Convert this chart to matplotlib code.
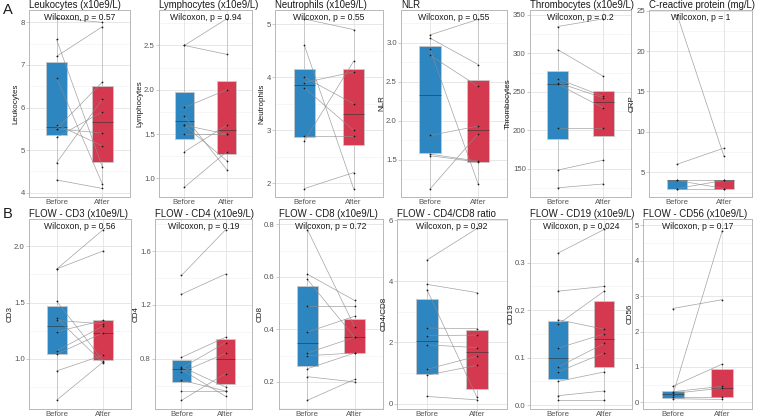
import matplotlib
matplotlib.use('Agg')
import matplotlib.pyplot as plt
import numpy as np

plt.rcParams['font.family'] = ['Liberation Sans', 'DejaVu Sans']

groups = ['Before', 'After']

# ---------------- data (paired: before[i] -> after[i]) ----------------
leuk_before = [8.1, 7.6, 7.2, 6.7, 5.6, 5.5, 5.5, 5.3, 4.7, 4.3]
leuk_after = [8.0, 4.6, 7.9, 4.2, 5.1, 5.4, 6.6, 5.9, 6.2, 4.1]
leuk_box_before = [5.35, 5.55, 7.07]   # q1, median, q3
leuk_box_after = [4.72, 5.67, 6.50]

lymph_before = [2.5, 2.5, 1.8, 1.7, 1.6, 1.6, 1.5, 1.3, 0.9]
lymph_after = [2.8, 2.4, 2.0, 1.1, 1.5, 1.2, 1.5, 1.6, 1.3]
lymph_box_before = [1.45, 1.65, 1.98]
lymph_box_after = [1.27, 1.55, 2.10]

neut_before = [5.1, 4.6, 4.0, 3.9, 3.8, 2.9, 2.8, 1.9]
neut_after = [4.9, 1.9, 3.5, 4.1, 3.0, 2.9, 4.3, 2.2]
neut_box_before = [2.88, 3.86, 4.15]
neut_box_after = [2.73, 3.30, 4.15]

nlr_before = [3.10, 3.06, 2.92, 2.84, 1.81, 1.57, 1.55, 1.12]
nlr_after = [3.30, 2.72, 1.19, 2.44, 1.93, 1.48, 1.47, 1.83]
nlr_box_before = [1.59, 2.33, 2.96]
nlr_box_after = [1.47, 1.88, 2.52]

thromb_before = [335, 305, 267, 262, 260, 203, 148, 125]
thromb_after = [345, 270, 244, 242, 229, 203, 161, 130]
thromb_box_before = [189, 260, 277]
thromb_box_after = [192, 237, 251]

crp_before = [24.5, 6.0, 4.0, 4.0, 3.0, 3.0]
crp_after = [7.0, 8.0, 3.0, 4.0, 4.0, 3.0]
crp_box_before = [3.0, 4.0, 4.0]
crp_box_after = [3.0, 4.0, 4.0]

cd3_before = [1.80, 1.80, 1.51, 1.36, 1.34, 1.24, 1.07, 1.04, 0.89, 0.63]
cd3_after = [2.15, 1.96, 0.98, 0.96, 1.31, 1.34, 1.29, 1.23, 1.03, 0.97]
cd3_box_before = [1.04, 1.29, 1.47]
cd3_box_after = [0.99, 1.23, 1.34]

cd4_before = [1.42, 1.28, 0.81, 0.74, 0.73, 0.72, 0.70, 0.64, 0.56, 0.49]
cd4_after = [1.76, 1.43, 0.96, 0.59, 0.92, 0.52, 0.84, 0.56, 0.56, 0.69]
cd4_box_before = [0.63, 0.72, 0.79]
cd4_box_after = [0.61, 0.80, 0.95]

cd8_before = [0.78, 0.61, 0.59, 0.49, 0.39, 0.31, 0.30, 0.25, 0.22, 0.13]
cd8_after = [0.41, 0.51, 0.37, 0.49, 0.45, 0.37, 0.31, 0.31, 0.20, 0.21]
cd8_box_before = [0.26, 0.35, 0.565]
cd8_box_after = [0.31, 0.37, 0.44]

ratio_before = [4.70, 3.90, 3.72, 2.47, 2.22, 1.92, 1.12, 0.93, 0.23]
ratio_after = [5.73, 3.63, 0.20, 2.45, 2.24, 1.83, 1.55, 1.25, 0.12]
ratio_box_before = [0.98, 2.05, 3.41]
ratio_box_after = [0.47, 1.68, 2.41]

cd19_before = [0.32, 0.24, 0.18, 0.17, 0.12, 0.08, 0.07, 0.05, 0.02, 0.01]
cd19_after = [0.37, 0.25, 0.16, 0.24, 0.15, 0.13, 0.11, 0.07, 0.03, 0.01]
cd19_box_before = [0.055, 0.10, 0.178]
cd19_box_after = [0.08, 0.14, 0.22]

cd56_before = [2.65, 0.45, 0.20, 0.30, 0.25, 0.15, 0.10]
cd56_after = [2.90, 1.08, 4.85, 0.45, 0.40, 0.15, 0.08]
cd56_box_before = [0.13, 0.22, 0.33]
cd56_box_after = [0.15, 0.40, 0.93]

titles = ['Leukocytes (x10e9/L)', 'Lymphocytes (x10e9/L)', 'Neutrophils (x10e9/L)',
          'NLR', 'Thrombocytes (x10e9/L)', 'C-reactive protein (mg/L)',
          'FLOW - CD3 (x10e9/L)', 'FLOW - CD4 (x10e9/L)', 'FLOW - CD8 (x10e9/L)',
          'FLOW - CD4/CD8 ratio', 'FLOW - CD19 (x10e9/L)', 'FLOW - CD56 (x10e9/L)']
ylabels = ['Leukocytes', 'Lymphocytes', 'Neutrophils', 'NLR', 'Thrombocytes', 'CRP',
           'CD3', 'CD4', 'CD8', 'CD4/CD8', 'CD19', 'CD56']
pvalues = ['0.57', '0.94', '0.55', '0.55', '0.2', '1',
           '0.56', '0.19', '0.72', '0.92', '0.024', '0.17']
ylims = [(3.9, 8.29), (0.79, 2.9), (1.74, 5.27), (1.02, 3.42), (113, 356.5), (1.95, 25.08),
         (0.55, 2.245), (0.426, 1.84), (0.097, 0.82), (-0.18, 6.04), (-0.008, 0.392), (-0.19, 5.18)]
yticks = [[4, 5, 6, 7, 8], [1.0, 1.5, 2.0, 2.5], [2, 3, 4, 5], [1.5, 2.0, 2.5, 3.0],
          [150, 200, 250, 300, 350], [5, 10, 15, 20, 25],
          [1.0, 1.5, 2.0], [0.8, 1.2, 1.6], [0.2, 0.4, 0.6, 0.8], [0, 2, 4, 6],
          [0.0, 0.1, 0.2, 0.3], [0, 1, 2, 3, 4, 5]]
yfmts = ['{:.0f}', '{:.1f}', '{:.0f}', '{:.1f}', '{:.0f}', '{:.0f}',
         '{:.1f}', '{:.1f}', '{:.1f}', '{:.0f}', '{:.1f}', '{:.0f}']

befores = [leuk_before, lymph_before, neut_before, nlr_before, thromb_before, crp_before,
           cd3_before, cd4_before, cd8_before, ratio_before, cd19_before, cd56_before]
afters = [leuk_after, lymph_after, neut_after, nlr_after, thromb_after, crp_after,
          cd3_after, cd4_after, cd8_after, ratio_after, cd19_after, cd56_after]
boxes_b = [leuk_box_before, lymph_box_before, neut_box_before, nlr_box_before,
           thromb_box_before, crp_box_before, cd3_box_before, cd4_box_before,
           cd8_box_before, ratio_box_before, cd19_box_before, cd56_box_before]
boxes_a = [leuk_box_after, lymph_box_after, neut_box_after, nlr_box_after,
           thromb_box_after, crp_box_after, cd3_box_after, cd4_box_after,
           cd8_box_after, ratio_box_after, cd19_box_after, cd56_box_after]

# ---------------- layout (pixels) ----------------
W, H = 758, 418
rowA = (10, 197)
rowB = (219, 409)
xA = [(29, 130), (159, 252), (275, 383), (401, 507), (530, 631), (649, 752)]
xB = [(29, 131), (155, 252), (279, 383), (397, 507), (530, 632), (643, 752)]

BLUE = '#2E86C1'
RED = '#D5394F'
GRID = '#e3e3e3'
BORDER = '#b8b8b8'

fig = plt.figure(figsize=(W / 100, H / 100), dpi=100)


def whisk(vals, q1, q3):
    iqr = q3 - q1
    v = np.asarray(vals, float)
    lo = v[v >= q1 - 1.5 * iqr].min()
    hi = v[v <= q3 + 1.5 * iqr].max()
    return min(lo, q1), max(hi, q3)


for i in range(12):
    row = rowA if i < 6 else rowB
    xl, xr = (xA if i < 6 else xB)[i % 6]
    yt, yb = row
    hpx = yb - yt
    ax = fig.add_axes([xl / W, 1 - yb / H, (xr - xl) / W, hpx / H])
    ax.set_xlim(0.4, 2.6)
    ax.set_ylim(*ylims[i])
    ax.set_facecolor('white')

    # grid
    yt_major = yticks[i]
    step = yt_major[1] - yt_major[0]
    minors = [t + step / 2 for t in [yt_major[0] - step] + list(yt_major)]
    for m in minors:
        if ylims[i][0] < m < ylims[i][1]:
            ax.axhline(m, color='#f0f0f0', lw=0.4, zorder=0)
    for t in yt_major:
        ax.axhline(t, color=GRID, lw=0.6, zorder=0)
    for xpos in (1, 2):
        ax.axvline(xpos, color=GRID, lw=0.6, zorder=0)

    # boxes
    stats = []
    for vals, bx in ((befores[i], boxes_b[i]), (afters[i], boxes_a[i])):
        lo, hi = whisk(vals, bx[0], bx[2])
        stats.append(dict(med=bx[1], q1=bx[0], q3=bx[2], whislo=lo, whishi=hi,
                          fliers=[]))
    bp = ax.bxp(stats, positions=[1, 2], widths=0.44, patch_artist=True,
                showfliers=False, showcaps=False,
                boxprops=dict(edgecolor='#c9c9c9', linewidth=0.6),
                whiskerprops=dict(color='#c4c4c4', linewidth=0.6),
                medianprops=dict(color='#333333', linewidth=0.7, alpha=0.6),
                zorder=2)
    for patch, c in zip(bp['boxes'], [BLUE, RED]):
        patch.set_facecolor(c)

    # paired lines and points
    b = np.asarray(befores[i], float)
    a = np.asarray(afters[i], float)
    for yb_, ya_ in zip(b, a):
        ax.plot([1, 2], [yb_, ya_], color='#8c8c8c', lw=0.5, alpha=0.8, zorder=3)
    ax.scatter(np.ones_like(b), b, s=1.6, color='#1a1a1a', zorder=4, linewidths=0)
    ax.scatter(np.full_like(a, 2), a, s=1.6, color='#1a1a1a', zorder=4, linewidths=0)

    # axes styling
    ax.set_xticks([1, 2])
    ax.set_xticklabels(groups)
    ax.set_yticks(yt_major)
    ax.set_yticklabels([yfmts[i].format(t) for t in yt_major])
    ax.tick_params(axis='both', length=2, width=0.5, color=BORDER,
                   labelsize=5.6, labelcolor='#555555', pad=1)
    ax.tick_params(axis='x', length=1.5, pad=0)
    for sp in ax.spines.values():
        sp.set_color(BORDER)
        sp.set_linewidth(0.7)
    ax.set_ylabel(ylabels[i], fontsize=5.8, color='#1a1a1a', labelpad=0.5)

    # title and p-value
    ax.text(0, 1 + 2 / hpx, titles[i], transform=ax.transAxes,
            ha='left', va='baseline', fontsize=6.9, color='#1a1a1a')
    ax.text(0.5, 1 - 9.5 / hpx, 'Wilcoxon, p = ' + pvalues[i],
            transform=ax.transAxes, ha='center', va='baseline',
            fontsize=6.2, color='#1a1a1a', zorder=5)

fig.text(3 / W, 1 - 14 / H, 'A', fontsize=10.5, ha='left', va='baseline', color='#1a1a1a')
fig.text(3 / W, 1 - 218 / H, 'B', fontsize=10.5, ha='left', va='baseline', color='#1a1a1a')

fig.savefig('out.png', dpi=100)
